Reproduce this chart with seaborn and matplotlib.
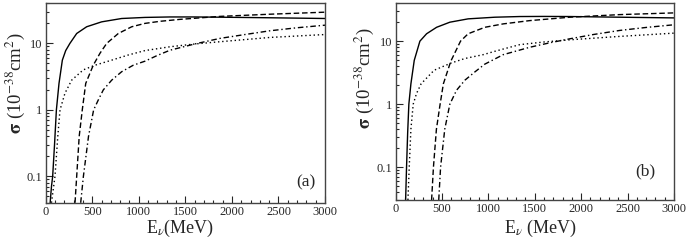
import numpy as np
import pandas as pd
from matplotlib import pyplot as plt
from matplotlib.ticker import MultipleLocator, LogLocator, FuncFormatter
import seaborn as sns

# panel (a) curves
a_solid_e = [48, 62, 75, 95, 115, 143, 179, 215, 260, 333, 440, 601, 816, 1066, 1335, 1600, 1872, 2410, 3000]
a_solid_s = [0.04, 0.07, 0.1, 0.3, 1.0, 2.5, 5.6, 7.8, 10, 14.1, 17.8, 21.1, 23.7, 24.6, 25, 25, 24.8, 24.3, 23.7]
a_dash_e = [315, 333, 360, 393, 430, 511, 583, 655, 780, 924, 1066, 1228, 1443, 1872, 2410, 3000]
a_dash_s = [0.04, 0.1, 0.4, 1.0, 2.5, 4.7, 7.1, 10, 14.1, 17.8, 20, 21.5, 23, 25.5, 27.5, 29.5]
a_dot_e = [62, 100, 130, 154, 207, 279, 404, 530, 709, 888, 1066, 1335, 1600, 1872, 2410, 3000]
a_dot_s = [0.04, 0.1, 0.4, 1.0, 1.78, 2.8, 4.0, 4.7, 5.6, 6.7, 7.8, 8.9, 9.8, 10.6, 12.3, 13.6]
a_dd_e = [376, 405, 460, 515, 565, 619, 709, 816, 941, 1066, 1200, 1335, 1600, 1872, 2140, 2410, 2700, 3000]
a_dd_s = [0.04, 0.1, 0.4, 1.0, 1.41, 2.0, 2.8, 3.75, 4.7, 5.4, 6.6, 7.9, 9.8, 11.9, 13.6, 15.5, 17.2, 18.8]

# panel (b)
b_solid_e = [108, 118, 130, 143, 165, 201, 262, 334, 442, 585, 782, 1070, 1339, 1600, 1878, 2417, 3000]
b_solid_s = [0.03, 0.1, 0.35, 1.0, 2.1, 4.95, 10, 13.1, 16.6, 20, 22.6, 24, 24.6, 24.7, 24.6, 24.0, 23.4]
b_dash_e = [388, 408, 440, 480, 515, 595, 700, 782, 962, 1160, 1447, 1878, 2417, 3000]
b_dash_s = [0.03, 0.1, 0.4, 1.0, 2.1, 4.8, 10, 13.1, 16.6, 18.8, 21.2, 24.0, 26.4, 28.1]
b_dot_e = [133, 147, 165, 190, 226, 275, 415, 600, 747, 944, 1070, 1232, 1339, 1600, 1878, 2417, 3000]
b_dot_s = [0.03, 0.1, 0.4, 1.0, 1.48, 2.1, 3.45, 4.5, 5.3, 6.1, 6.9, 8.0, 8.8, 9.7, 10.5, 11.9, 13.4]
b_dd_e = [465, 485, 530, 585, 657, 747, 854, 960, 1160, 1447, 1660, 1878, 2140, 2417, 2700, 3000]
b_dd_s = [0.03, 0.1, 0.4, 1.0, 1.66, 2.4, 3.24, 4.3, 6.1, 8.0, 9.4, 10.9, 12.8, 14.8, 16.5, 18.2]

sns.set_style('white')
plt.rcParams['font.family'] = ['Liberation Serif', 'DejaVu Serif']
plt.rcParams['mathtext.fontset'] = 'stix'

fig = plt.figure(figsize=(6.88, 2.42), dpi=100)
ax1 = fig.add_axes([0.0664, 0.162, 0.406, 0.824])
ax2 = fig.add_axes([0.575, 0.1736, 0.4045, 0.813])

styles = [None, (4, 2), (1, 2), (4, 2, 1, 2)]


def draw(ax, curves, ylo, tag, tag_xy, xlab_xy, ylab_xy, xlabel):
    for (e, s), dash in zip(curves, styles):
        df = pd.DataFrame({'E': e, 'sigma': s})
        sns.lineplot(data=df, x='E', y='sigma', ax=ax, color='black',
                     lw=1.0, estimator=None, sort=False)
        if dash is not None:
            ax.get_lines()[-1].set_dashes(dash)
    ax.set_yscale('log')
    ax.set_xlim(0, 3000)
    ax.set_ylim(ylo, 40)
    ax.xaxis.set_major_locator(MultipleLocator(500))
    ax.xaxis.set_minor_locator(MultipleLocator(100))
    ax.yaxis.set_major_locator(LogLocator(base=10, numticks=10))
    ax.yaxis.set_minor_locator(LogLocator(base=10, subs=np.arange(2, 10), numticks=10))
    ax.yaxis.set_major_formatter(FuncFormatter(lambda v, p: '%g' % v))
    ax.tick_params(which='major', direction='in', length=5, width=0.8, labelsize=9,
                   top=False, right=False, bottom=True, left=True, pad=2.5)
    ax.tick_params(which='minor', direction='in', length=2.5, width=0.8,
                   top=False, right=False, bottom=True, left=True)
    for sp in ax.spines.values():
        sp.set_color('#444444')
        sp.set_linewidth(1.0)
    ax.set_xlabel(xlabel, fontsize=13)
    ax.set_ylabel(r'$\mathbf{\sigma}$ (10$^{-38}$cm$^{2}$)', fontsize=13.5)
    ax.xaxis.set_label_coords(*xlab_xy)
    ax.yaxis.set_label_coords(*ylab_xy)
    ax.xaxis.label.set_va('center')
    ax.yaxis.label.set_va('center')
    ax.text(tag_xy[0], tag_xy[1], tag, transform=ax.transAxes, fontsize=12.5,
            ha='center', va='center')


draw(ax1, [(a_solid_e, a_solid_s), (a_dash_e, a_dash_s), (a_dot_e, a_dot_s), (a_dd_e, a_dd_s)],
     0.04, '(a)', (0.932, 0.104), (0.48, -0.13), (-0.11, 0.6), r'E$_\nu$(MeV)')
draw(ax2, [(b_solid_e, b_solid_s), (b_dash_e, b_dash_s), (b_dot_e, b_dot_s), (b_dd_e, b_dd_s)],
     0.03, '(b)', (0.898, 0.144), (0.52, -0.145), (-0.114, 0.62), r'E$_\nu$ (MeV)')

fig.savefig('out.png', dpi=100)
